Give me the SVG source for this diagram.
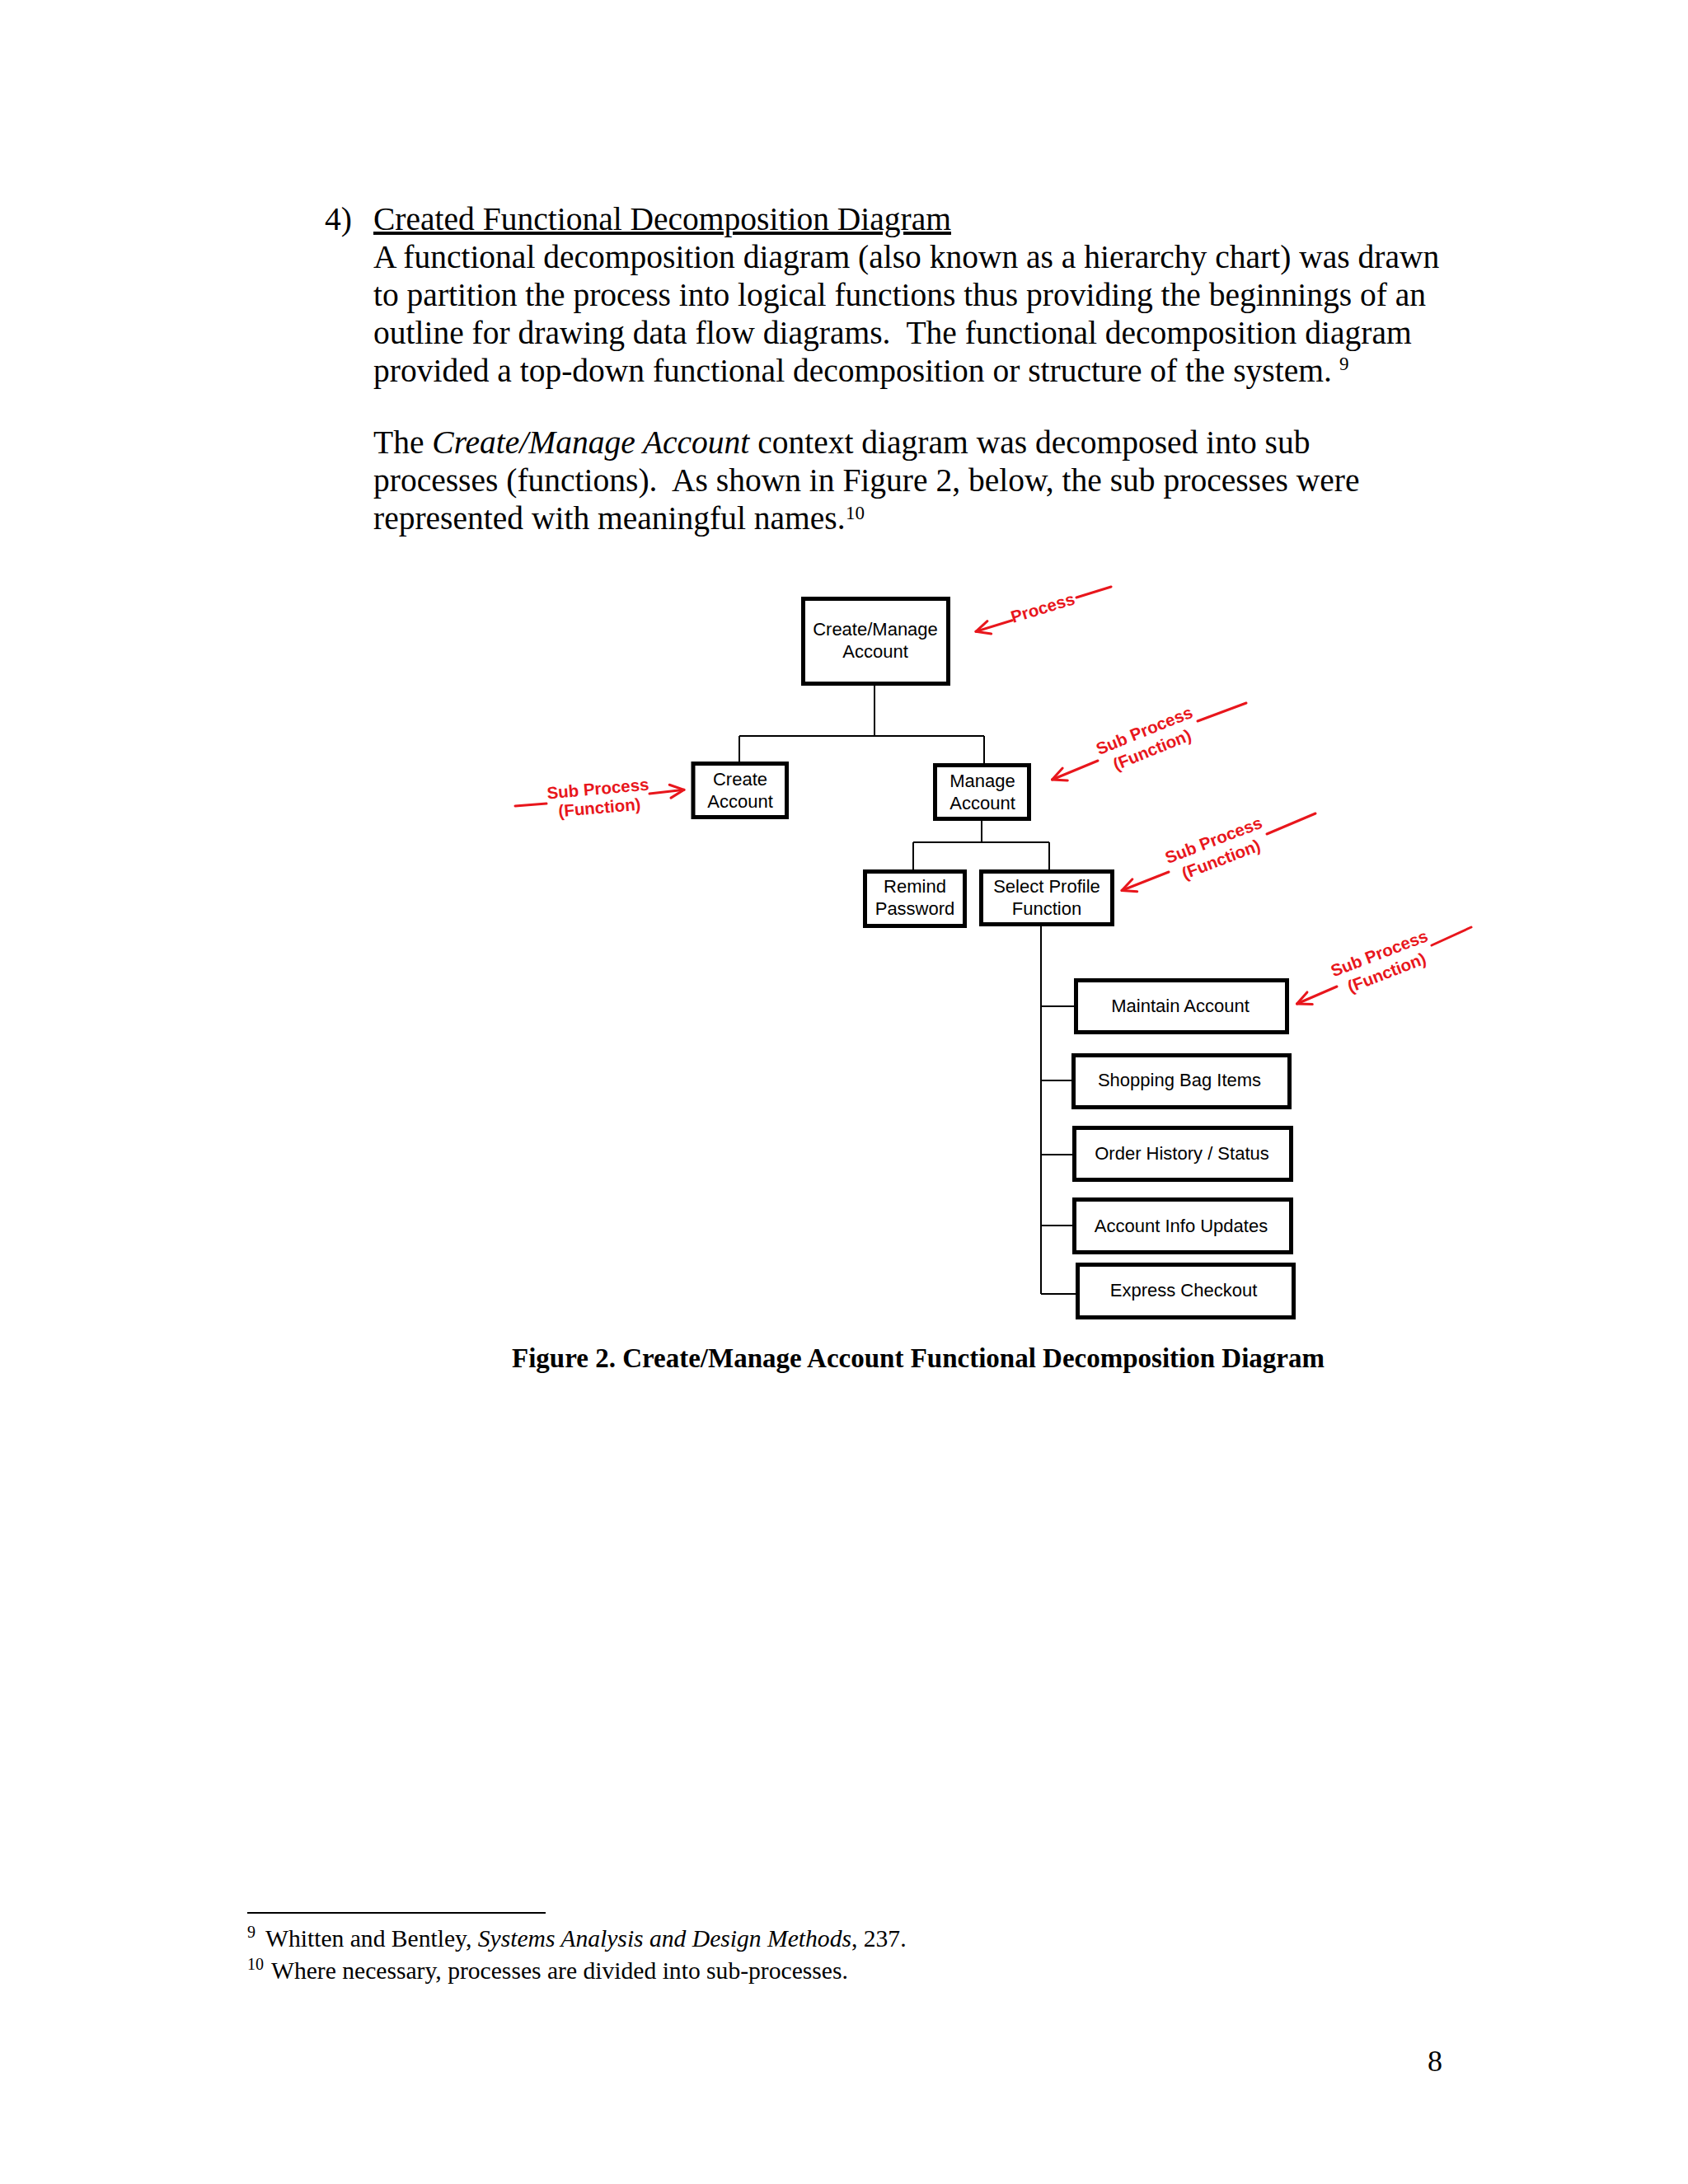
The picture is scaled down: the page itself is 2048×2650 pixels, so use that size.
<svg xmlns="http://www.w3.org/2000/svg" width="2048" height="2650" viewBox="0 0 2048 2650">
<defs>
<style>
.body{font-family:"Liberation Serif","Times New Roman",serif;font-size:39.5px;fill:#000;white-space:pre}
.foot{font-family:"Liberation Serif","Times New Roman",serif;font-size:29.6px;fill:#000;white-space:pre}
.sup{font-family:"Liberation Serif","Times New Roman",serif;font-size:23px;fill:#000}
.fsup{font-family:"Liberation Serif","Times New Roman",serif;font-size:20px;fill:#000}
.cap{font-family:"Liberation Serif","Times New Roman",serif;font-size:33px;font-weight:bold;fill:#000}
.box{fill:#fff;stroke:#000;stroke-width:5}
.lbl{font-family:"Liberation Sans",Arial,sans-serif;font-size:22px;fill:#000;text-anchor:middle}
.conn{stroke:#000;stroke-width:2;fill:none}
.red{stroke:#e8161c;stroke-width:3;fill:none;stroke-linecap:round}
.rtxt{font-family:"Liberation Sans",Arial,sans-serif;font-size:20.5px;font-weight:bold;fill:#e8161c;text-anchor:middle}
</style>
<marker id="ah" viewBox="-20 -11 23 22" refX="0" refY="0" markerWidth="23" markerHeight="22" markerUnits="userSpaceOnUse" orient="auto">
<path d="M-17,-8 L0,0 L-17,8" fill="none" stroke="#e8161c" stroke-width="3" stroke-linecap="round" stroke-linejoin="round"/>
</marker>
</defs>
<rect x="0" y="0" width="2048" height="2650" fill="#fff"/>

<g id="body-text">
<text class="body" x="394" y="279">4)</text>
<text class="body" x="453" y="279" text-decoration="underline">Created Functional Decomposition Diagram</text>
<text class="body" x="453" y="325">A functional decomposition diagram (also known as a hierarchy chart) was drawn</text>
<text class="body" x="453" y="371">to partition the process into logical functions thus providing the beginnings of an</text>
<text class="body" x="453" y="417">outline for drawing data flow diagrams.  The functional decomposition diagram</text>
<text class="body" x="453" y="463">provided a top-down functional decomposition or structure of the system.</text>
<text class="sup" x="1625" y="449">9</text>
<text class="body" x="453" y="550">The <tspan font-style="italic">Create/Manage Account</tspan> context diagram was decomposed into sub</text>
<text class="body" x="453" y="596">processes (functions).  As shown in Figure 2, below, the sub processes were</text>
<text class="body" x="453" y="642">represented with meaningful names.</text>
<text class="sup" x="1026" y="630">10</text>
</g>

<g id="connectors">
<path class="conn" d="M1061,832 V893 M897,893 H1194 M897,893 V926 M1194,893 V928"/>
<path class="conn" d="M1191,996 V1022 M1108,1022 H1273 M1108,1022 V1057 M1273,1022 V1057"/>
<path class="conn" d="M1263,1124 V1570 M1263,1221 H1305 M1263,1311 H1302 M1263,1401 H1303 M1263,1487 H1303 M1263,1570 H1307"/>
</g>

<g id="node-create-manage-account">
<rect class="box" x="974.5" y="726.5" width="176" height="103"/>
<text class="lbl" x="1062" y="771">Create/Manage</text>
<text class="lbl" x="1062" y="798">Account</text>
</g>
<g id="node-create-account">
<rect class="box" x="841" y="926.5" width="113.5" height="65"/>
<text class="lbl" x="898" y="953">Create</text>
<text class="lbl" x="898" y="980">Account</text>
</g>
<g id="node-manage-account">
<rect class="box" x="1134.5" y="928.5" width="114" height="65"/>
<text class="lbl" x="1192" y="955">Manage</text>
<text class="lbl" x="1192" y="982">Account</text>
</g>
<g id="node-remind-password">
<rect class="box" x="1049.5" y="1057.5" width="121" height="66"/>
<text class="lbl" x="1110" y="1083">Remind</text>
<text class="lbl" x="1110" y="1110">Password</text>
</g>
<g id="node-select-profile-function">
<rect class="box" x="1190.5" y="1057.5" width="159" height="64"/>
<text class="lbl" x="1270" y="1083">Select Profile</text>
<text class="lbl" x="1270" y="1110">Function</text>
</g>
<g id="node-maintain-account">
<rect class="box" x="1305.5" y="1189.5" width="256" height="63"/>
<text class="lbl" x="1432" y="1228">Maintain Account</text>
</g>
<g id="node-shopping-bag-items">
<rect class="box" x="1302.5" y="1280.5" width="262" height="63"/>
<text class="lbl" x="1431" y="1318">Shopping Bag Items</text>
</g>
<g id="node-order-history-status">
<rect class="box" x="1303.5" y="1368.5" width="263" height="63"/>
<text class="lbl" x="1434" y="1407">Order History / Status</text>
</g>
<g id="node-account-info-updates">
<rect class="box" x="1303.5" y="1455.5" width="263" height="64"/>
<text class="lbl" x="1433" y="1495">Account Info Updates</text>
</g>
<g id="node-express-checkout">
<rect class="box" x="1307.5" y="1534.5" width="262" height="64"/>
<text class="lbl" x="1436" y="1573">Express Checkout</text>
</g>

<g id="annotations">
<line class="red" x1="1228" y1="752.7" x2="1184" y2="766.3" marker-end="url(#ah)"/>
<text class="rtxt" x="1229" y="756" transform="rotate(-17 1229 756)" style="text-anchor:start">Process</text>
<line class="red" x1="1306" y1="725" x2="1348" y2="712"/>

<line class="red" x1="625" y1="978" x2="663" y2="975"/>
<g transform="translate(726 964) rotate(-5)">
<text class="rtxt" x="0" y="0">Sub Process</text>
<text class="rtxt" x="0" y="23">(Function)</text>
</g>
<line class="red" x1="788" y1="963" x2="830" y2="958.3" marker-end="url(#ah)"/>

<line class="red" x1="1332" y1="923" x2="1276.5" y2="946" marker-end="url(#ah)"/>
<g transform="translate(1391 893) rotate(-22)">
<text class="rtxt" x="0" y="0">Sub Process</text>
<text class="rtxt" x="0" y="25">(Function)</text>
</g>
<line class="red" x1="1453" y1="875" x2="1512" y2="853"/>

<line class="red" x1="1418" y1="1058" x2="1361" y2="1080.5" marker-end="url(#ah)"/>
<g transform="translate(1475 1026) rotate(-21)">
<text class="rtxt" x="0" y="0">Sub Process</text>
<text class="rtxt" x="0" y="25">(Function)</text>
</g>
<line class="red" x1="1537" y1="1012" x2="1596" y2="987"/>

<line class="red" x1="1622" y1="1197" x2="1573.5" y2="1218" marker-end="url(#ah)"/>
<g transform="translate(1676 1163.3) rotate(-21)">
<text class="rtxt" x="0" y="0">Sub Process</text>
<text class="rtxt" x="0" y="25">(Function)</text>
</g>
<line class="red" x1="1737" y1="1147" x2="1785" y2="1125"/>
</g>

<g id="caption">
<text class="cap" x="1114" y="1659" text-anchor="middle">Figure 2. Create/Manage Account Functional Decomposition Diagram</text>
</g>

<g id="footnotes">
<line x1="300" y1="2321" x2="662" y2="2321" stroke="#000" stroke-width="2"/>
<text class="fsup" x="300" y="2351">9</text>
<text class="foot" x="322" y="2362">Whitten and Bentley, <tspan font-style="italic">Systems Analysis and Design Methods</tspan>, 237.</text>
<text class="fsup" x="300" y="2390">10</text>
<text class="foot" x="329" y="2401">Where necessary, processes are divided into sub-processes.</text>
</g>

<text class="body" x="1741" y="2513" text-anchor="middle" style="font-size:36px">8</text>
</svg>
